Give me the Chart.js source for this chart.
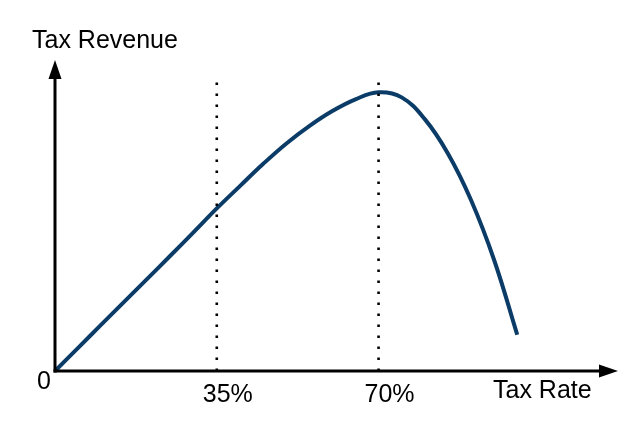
<!DOCTYPE html>
<html>
<head>
<meta charset="utf-8">
<script src="https://cdn.jsdelivr.net/npm/chart.js@4/dist/chart.umd.min.js"></script>
<style>
html,body{margin:0;padding:0;background:#fff;}
#wrap{width:640px;height:431px;position:relative;}
</style>
</head>
<body>
<div id="wrap"><canvas id="c"></canvas></div>
<script>
// Tax rate (%) and tax revenue (relative units, peak = 100)
const taxRates = [0, 5, 10, 15, 20, 25, 30, 35, 40, 45, 50, 55, 60, 65, 70, 75, 80, 85, 90, 95, 100];
const revenue  = [0, 8.3, 16.6, 24.9, 33.1, 41.4, 49.8, 58.3, 66.3, 74.2, 81.5, 87.8, 93.2, 97.4, 99.9, 98.1, 90.3, 78.0, 61.3, 39.8, 13.0];
const markerRates = [35, 70];
const markerTop = 106;
const tickLabels = ["0", "35%", "70%"];
const xAxisTitle = "Tax Rate";
const yAxisTitle = "Tax Revenue";
const xMax = 121.8, yMax = 111.5;

const curve = taxRates.map((x, i) => ({x: x, y: revenue[i]}));
const markerSets = markerRates.map(r => ({
  data: [{x: r, y: 0}, {x: r, y: markerTop}],
  borderColor: '#000', borderWidth: 2.6, borderDash: [2.6, 8.4],
  pointRadius: 0, fill: false, tension: 0, borderCapStyle: 'butt'
}));

const axesPlugin = {
  id: 'axesPlugin',
  afterDatasetsDraw(chart) {
    const ctx = chart.ctx, xs = chart.scales.x, ys = chart.scales.y;
    const x0 = xs.getPixelForValue(0), y0 = ys.getPixelForValue(0);
    const xe = xs.getPixelForValue(xMax), ye = ys.getPixelForValue(yMax);
    ctx.save();
    ctx.strokeStyle = '#000'; ctx.fillStyle = '#000'; ctx.lineWidth = 3;
    // x axis
    ctx.beginPath(); ctx.moveTo(x0 - 1.5, y0); ctx.lineTo(xe - 14, y0); ctx.stroke();
    ctx.beginPath(); ctx.moveTo(xe, y0); ctx.lineTo(xe - 19, y0 - 6.5); ctx.lineTo(xe - 19, y0 + 6.5); ctx.closePath(); ctx.fill();
    // y axis
    ctx.beginPath(); ctx.moveTo(x0, y0 + 1.5); ctx.lineTo(x0, ye + 14); ctx.stroke();
    ctx.beginPath(); ctx.moveTo(x0, ye); ctx.lineTo(x0 - 6.5, ye + 19); ctx.lineTo(x0 + 6.5, ye + 19); ctx.closePath(); ctx.fill();
    // texts
    ctx.font = '25px "Liberation Sans", Arial, sans-serif';
    ctx.textBaseline = 'alphabetic';
    ctx.textAlign = 'left';
    ctx.fillText(yAxisTitle, 32, 48);
    ctx.fillText(xAxisTitle, 493, 398);
    ctx.textAlign = 'right';
    ctx.fillText(tickLabels[0], x0 - 4, 389);
    ctx.textAlign = 'center';
    ctx.fillText(tickLabels[1], xs.getPixelForValue(markerRates[0]) + 11, 402);
    ctx.fillText(tickLabels[2], xs.getPixelForValue(markerRates[1]) + 11, 402);
    ctx.restore();
  }
};

new Chart(document.getElementById('c'), {
  type: 'line',
  data: {
    datasets: [
      ...markerSets,
      {
        data: curve, borderColor: '#0b3c68', borderWidth: 4,
        pointRadius: 0, fill: false, tension: 0.4,
        borderCapStyle: 'butt'
      }
    ]
  },
  options: {
    responsive: true, maintainAspectRatio: false, animation: false,
    devicePixelRatio: 1,
    layout: {padding: {left: 55, right: 640 - 618, top: 60, bottom: 60}},
    plugins: {legend: {display: false}, tooltip: {enabled: false}},
    elements: {line: {borderJoinStyle: 'round'}},
    clip: false,
    scales: {
      x: {type: 'linear', min: 0, max: xMax, display: false},
      y: {type: 'linear', min: 0, max: yMax, display: false}
    }
  },
  plugins: [axesPlugin]
});
</script>
</body>
</html>
